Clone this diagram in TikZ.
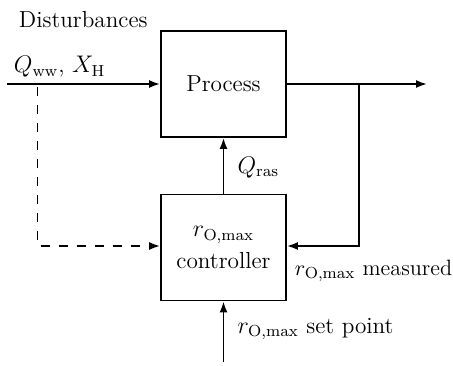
\documentclass[tikz,border=0pt]{standalone}
\usetikzlibrary{arrows.meta}
\begin{document}
\begin{tikzpicture}[x=0.5pt,y=-0.5pt,
  line width=0.9pt,
  every node/.style={font=\fontsize{11.6}{13.5}\selectfont, inner sep=0pt},
  blockbox/.style={draw, minimum width=62.5pt, minimum height=53pt, align=center},
  sig/.style={-{Latex[length=5.5pt,width=4pt]}},
  dsig/.style={-{Latex[length=5.5pt,width=4pt]}, dash pattern=on 4.5pt off 4.5pt},
  lbl/.style={anchor=base west}]
\useasboundingbox (0,0) rectangle (453,365);
\node[blockbox] (proc) at (223.5,84) {Process};
\node[blockbox] (ctrl) at (223.5,247.5) {$r_{\mathrm{O,max}}$\\[2.5pt]controller};
\coordinate (in) at (7,84);
\coordinate (out) at (427,84);
\coordinate (dtop) at (37.5,87);
\coordinate (dbot) at (37.5,246);
\coordinate (ftop) at (359,84);
\coordinate (fbot) at (359,246);
\coordinate (sp) at (223.5,362);
\draw[sig] (in) -- (proc.west);
\draw[sig] (proc.east) -- (out);
\draw[dsig] (dtop) -- (dbot) -- (dbot -| ctrl.west);
\draw[sig] (ftop) -- (fbot) -- (fbot -| ctrl.east);
\draw[sig] (ctrl.north) -- (proc.south);
\draw[sig] (sp) -- (ctrl.south);
\node[lbl] (dist) at (18,27) {Disturbances};
\node[lbl] (qin) at (13,72.7) {$Q_{\mathrm{ww}}$, $X_{\mathrm{H}}$};
\node[lbl] (qras) at (236.7,173) {$Q_{\mathrm{ras}}$};
\node[lbl, font=\fontsize{11.1}{13}\selectfont] (meas) at (294,275) {$r_{\mathrm{O,max}}$ measured};
\node[lbl] (setp) at (236.7,333) {$r_{\mathrm{O,max}}$ set point};
\end{tikzpicture}
\end{document}
